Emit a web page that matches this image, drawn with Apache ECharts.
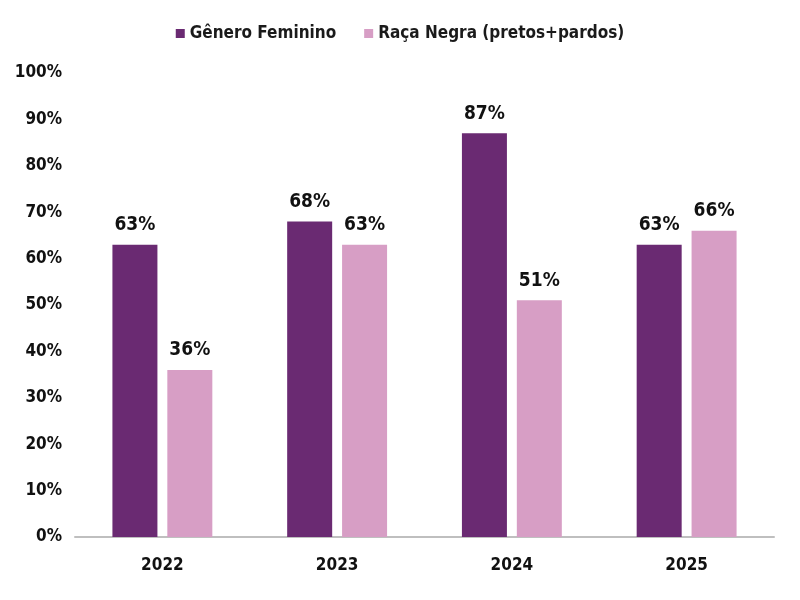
<!DOCTYPE html>
<html><head><meta charset="utf-8">
<script src="https://cdn.jsdelivr.net/npm/echarts@6/dist/echarts.min.js"></script>
<style>html,body{margin:0;padding:0;background:#fff}#c{width:800px;height:600px}</style>
</head><body><div id="c"></div>
<script>
const categories = ['2022','2023','2024','2025'];
const genero = [63, 68, 87, 63];
const raca = [36, 63, 51, 66];
const seriesNames = ['Gênero Feminino', 'Raça Negra (pretos+pardos)'];
const FONT = "'Liberation Sans Narrow', 'DejaVu Sans Condensed', sans-serif";
const chart = echarts.init(document.getElementById('c'));
const lbl = {show:true, position:'top', distance:10, formatter:'{c}%', fontFamily:FONT, fontWeight:'bold', fontSize:19, color:'#111'};
chart.setOption({
  animation:false,
  legend:{top:20, left:'center', itemWidth:9, itemHeight:9, itemGap:28, icon:'rect',
    textStyle:{fontFamily:FONT, fontWeight:'bold', fontSize:17, color:'#1a1a1a'}},
  grid:{left:75, right:26, top:73, bottom:63},
  xAxis:{type:'category', data:categories,
    axisLine:{lineStyle:{color:'#BFBFBF', width:2}}, axisTick:{show:false},
    axisLabel:{fontFamily:FONT, fontWeight:'bold', fontSize:17, color:'#111', margin:20}},
  yAxis:{type:'value', min:0, max:100, interval:10,
    splitLine:{show:false}, axisLine:{show:false}, axisTick:{show:false},
    axisLabel:{formatter:'{value}%', fontFamily:FONT, fontWeight:'bold', fontSize:17, color:'#111', margin:13}},
  series:[
    {name:seriesNames[0], type:'bar', data:genero, barWidth:45, barGap:'22%', itemStyle:{color:'#6A2A72'}, label:lbl},
    {name:seriesNames[1], type:'bar', data:raca, barWidth:45, itemStyle:{color:'#D79EC5'}, label:lbl}
  ]
});
</script></body></html>
